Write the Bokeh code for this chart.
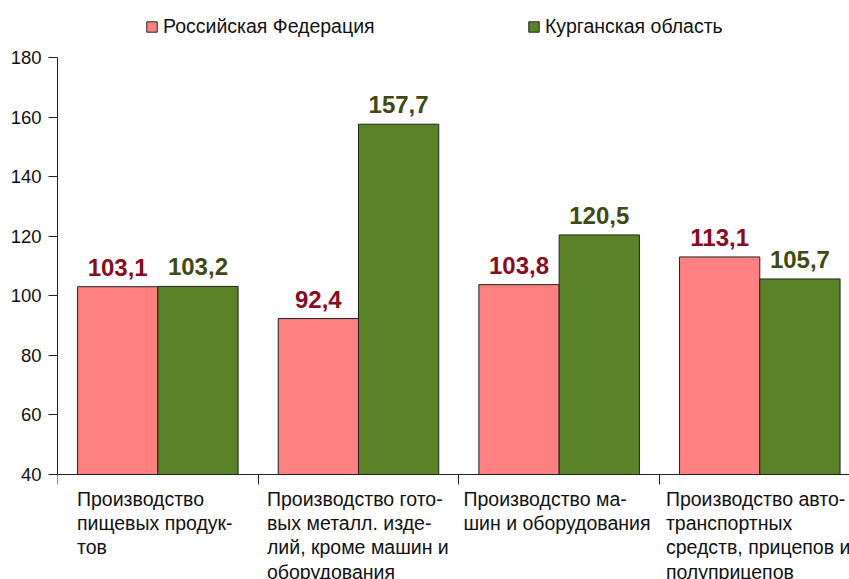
from bokeh.plotting import figure
from bokeh.models import (Range1d, FixedTicker, ColumnDataSource, LabelSet, Label,
                          Legend, LegendItem)
from bokeh.core.properties import value
from bokeh.embed import file_html
from bokeh.resources import INLINE

# ---- data ----
categories = [
    "Производство\nпищевых продук-\nтов",
    "Производство гото-\nвых металл. изде-\nлий, кроме машин и\nоборудования",
    "Производство ма-\nшин и оборудования",
    "Производство авто-\nтранспортных\nсредств, прицепов и\nполуприцепов",
]
series_names = ["Российская Федерация", "Курганская область"]
rf_values = [103.1, 92.4, 103.8, 113.1]
kurgan_values = [103.2, 157.7, 120.5, 105.7]
y_ticks = [40, 60, 80, 100, 120, 140, 160, 180]

# ---- styles / layout ----
FONT = "Liberation Sans"
PINK = "#FF8080"
GREEN = "#5A8327"
PINK_TXT = "#8B0A1E"
GREEN_TXT = "#3F4A12"
AXIS = "#222222"
label_left_offsets = [0.097, 0.044, 0.023, 0.032]  # left edge of each category label block (category units)

p = figure(width=849, height=579, output_backend="svg", toolbar_location=None,
           x_range=Range1d(0, 3.947), y_range=Range1d(4.72, 199.27),
           min_border_left=57, min_border_right=0, min_border_top=0, min_border_bottom=0)
p.outline_line_color = None
p.grid.visible = False
p.background_fill_color = "white"
p.border_fill_color = "white"

# y axis
ya = p.yaxis[0]
ya.ticker = FixedTicker(ticks=y_ticks)
ya.bounds = (40, 180)
ya.major_tick_out = 9
ya.major_tick_in = 0
ya.minor_tick_out = 0
ya.minor_tick_in = 0
ya.major_label_standoff = 7
ya.major_label_text_font = FONT
ya.major_label_text_font_size = "18.5px"
ya.major_label_text_color = "#111111"
ya.axis_line_color = AXIS
ya.major_tick_line_color = AXIS

# x axis (drawn at y = 40 inside the frame)
xa = p.xaxis[0]
xa.fixed_location = 40
xa.ticker = FixedTicker(ticks=[0, 1, 2, 3, 4])
xa.major_tick_out = 10
xa.major_tick_in = 0
xa.minor_tick_out = 0
xa.minor_tick_in = 0
xa.major_label_text_font_size = "0px"
xa.major_label_text_alpha = 0
xa.axis_line_color = AXIS
xa.major_tick_line_color = AXIS

idx = list(range(len(categories)))
rf_src = ColumnDataSource(dict(
    x=[i + 0.3 for i in idx], top=rf_values,
    txt=[f"{v:.1f}".replace(".", ",") for v in rf_values]))
kg_src = ColumnDataSource(dict(
    x=[i + 0.7 for i in idx], top=kurgan_values,
    txt=[f"{v:.1f}".replace(".", ",") for v in kurgan_values]))

r_rf = p.vbar(x="x", top="top", bottom=40, width=0.4, source=rf_src,
              fill_color=PINK, line_color="#222222", line_width=1)
r_kg = p.vbar(x="x", top="top", bottom=40, width=0.4, source=kg_src,
              fill_color=GREEN, line_color="#222222", line_width=1)

for src, col in ((rf_src, PINK_TXT), (kg_src, GREEN_TXT)):
    p.add_layout(LabelSet(x="x", y="top", text="txt", source=src, y_offset=11,
                          text_align="center", text_baseline="alphabetic",
                          text_font=value(FONT), text_font_size=value("24px"),
                          text_font_style="bold", text_color=col))

# category labels
for i, cat in enumerate(categories):
    p.add_layout(Label(x=i + label_left_offsets[i], y=40, y_offset=-13, text=cat,
                       text_align="left", text_baseline="top", text_font=FONT,
                       text_font_size="19.5px", text_color="#111111",
                       text_line_height=1.11))

# legends
for name, rend, loc in ((series_names[0], r_rf, (88, 541)), (series_names[1], r_kg, (470, 541))):
    leg = Legend(items=[LegendItem(label=name, renderers=[rend])], location=loc,
                 glyph_width=13, glyph_height=13, label_standoff=5, padding=0, margin=0,
                 border_line_color=None, background_fill_alpha=0,
                 label_text_font=FONT, label_text_font_size="19.5px",
                 label_text_color="#111111")
    p.add_layout(leg)

open("out.html", "w").write(file_html(p, INLINE))
